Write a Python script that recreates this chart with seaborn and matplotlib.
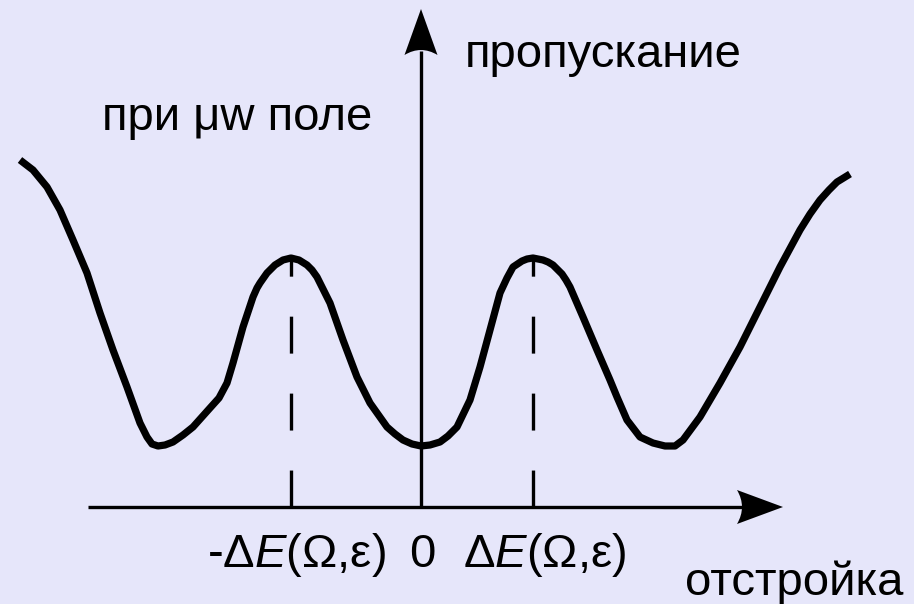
import matplotlib
matplotlib.use("Agg")
import matplotlib.pyplot as plt
import seaborn as sns
import pandas as pd
from matplotlib.path import Path
from matplotlib.patches import PathPatch

# Transmission spectrum in the presence of a microwave field (arbitrary units)
detuning = [-401, -388, -374, -361, -348, -334, -321, -308, -294, -281,
            -274, -269, -263, -256, -248, -238, -228, -211, -202, -194,
            -188, -178, -168, -164, -161, -154, -146, -138, -130, -122,
            -114, -109, -104, -98, -91, -78, -64, -51, -34, -26,
            -18, -9, 0, 9, 19, 27, 36, 49, 59, 69,
            79, 86, 92, 101, 106, 112, 117, 122, 127, 132,
            141, 145, 149, 162, 176, 189, 196, 206, 219, 232,
            244, 254, 262, 279, 299, 319, 339, 359, 379, 389,
            399, 408, 416, 429]
transmission = [347, 337, 320, 297, 267, 234, 194, 157, 120, 84,
                70, 63, 61, 62, 65, 72, 80, 99, 109, 124,
                144, 180, 210, 219, 224, 234, 242, 247, 249, 247,
                242, 237, 230, 218, 204, 167, 130, 104, 80, 73,
                67, 63, 61, 62, 65, 71, 80, 107, 140, 177,
                214, 229, 240, 246, 248, 249, 248, 247, 245, 242,
                233, 227, 220, 190, 157, 127, 110, 87, 70, 64,
                61, 61, 67, 90, 124, 160, 200, 240, 277, 293,
                307, 317, 325, 333]

# Side peaks at -ΔE and +ΔE
peak_detuning = [-130, 112]
peak_height = [249, 249]

tick_labels = ["-Δ$\\mathit{E}$(Ω,ε)", "0", "Δ$\\mathit{E}$(Ω,ε)"]
tick_positions = [-125, 1.5, 124]
x_label = "отстройка"
y_label = "пропускание"
title_text = "при μw поле"

sns.set_theme(style="white")
plt.rcParams["font.family"] = ["Liberation Sans", "DejaVu Sans"]
plt.rcParams["mathtext.fontset"] = "custom"
plt.rcParams["mathtext.rm"] = "Liberation Sans"
plt.rcParams["mathtext.it"] = "Liberation Sans:italic"
plt.rcParams["lines.scale_dashes"] = False

BG = "#E6E6FA"
fig = plt.figure(figsize=(9.14, 6.04), dpi=100, facecolor=BG)
ax = fig.add_axes([0, 0, 1, 1])
ax.set_facecolor(BG)
ax.set_xlim(-421, 493)
ax.set_ylim(-97, 507)
ax.axis("off")

df = pd.DataFrame({"detuning": detuning, "transmission": transmission})
sns.lineplot(data=df, x="detuning", y="transmission", sort=False,
             estimator=None, color="black", linewidth=5.2, ax=ax,
             solid_joinstyle="round", solid_capstyle="butt", zorder=3)

# dashed markers from the axis up to each side peak
for xp, yp in zip(peak_detuning, peak_height):
    ax.plot([xp, xp], [0, yp], color="black", lw=2.4,
            dashes=(26.6, 28.8), dash_capstyle="butt", zorder=2)

# coordinate axes
axis_lw = 2.4
ax.plot([-333, 322], [0, 0], color="black", lw=axis_lw,
        solid_capstyle="butt", zorder=2)
ax.plot([0, 0], [0, 456], color="black", lw=axis_lw,
        solid_capstyle="butt", zorder=2)


def arrow_head(tip, direction, length=46, half_width=17, notch=10):
    tx, ty = tip
    dx, dy = direction
    px, py = -dy, dx
    bx, by = tx - dx * length, ty - dy * length
    c1 = (bx + px * half_width, by + py * half_width)
    c2 = (bx - px * half_width, by - py * half_width)
    ctrl = (bx + dx * notch, by + dy * notch)
    verts = [(tx, ty), c1, ctrl, c2, (tx, ty)]
    codes = [Path.MOVETO, Path.LINETO, Path.CURVE3, Path.CURVE3,
             Path.CLOSEPOLY]
    return PathPatch(Path(verts, codes), facecolor="black",
                     edgecolor="none", zorder=4)


ax.add_patch(arrow_head((362, 0), (1, 0)))
ax.add_patch(arrow_head((0, 498), (0, 1), length=46, half_width=16.5))

fs = 34
for lab, xp in zip(tick_labels, tick_positions):
    ax.text(xp, -60, lab, ha="center", va="baseline", fontsize=fs,
            color="black")
ax.text(264, -88, x_label, ha="left", va="baseline", fontsize=fs,
        color="black")
ax.text(44, 440, y_label, ha="left", va="baseline", fontsize=fs,
        color="black")
ax.text(-319, 377, title_text, ha="left", va="baseline", fontsize=fs,
        color="black")

fig.savefig("out.png", dpi=100, facecolor=BG)
